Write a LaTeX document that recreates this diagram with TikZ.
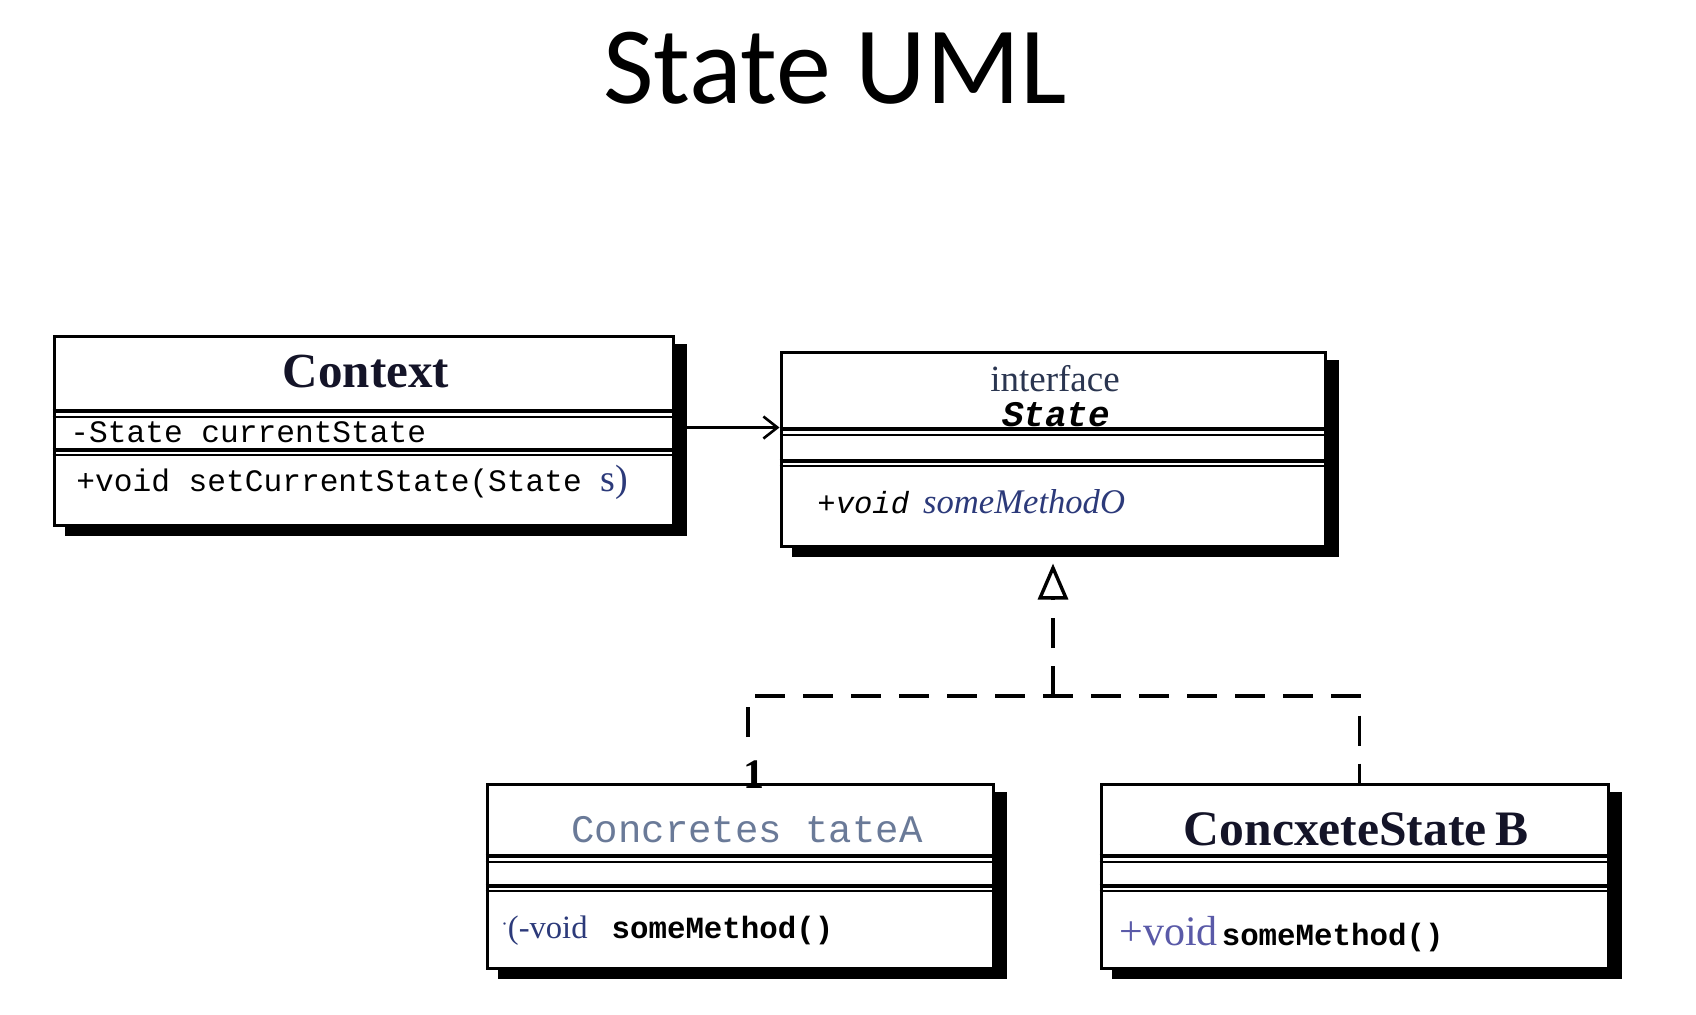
\documentclass[tikz,border=0pt]{standalone}
\usepackage{fontspec}
\setmainfont{Liberation Serif}
\setmonofont{Liberation Mono}
\newfontfamily\titlefont{Carlito}
\usetikzlibrary{fit,arrows.meta,calc}
\definecolor{inkdark}{HTML}{141428}
\definecolor{slate}{HTML}{2A3550}
\definecolor{navy}{HTML}{2C3A7A}
\definecolor{steel}{HTML}{6A7A98}
\definecolor{violet}{HTML}{5A5AA8}
\begin{document}
\begin{tikzpicture}[x=0.5pt,y=-0.5pt,
  umlbox/.style={draw=black, line width=1.5pt, fill=white, inner sep=0pt,
    preaction={fill=black, draw=black, line width=1.5pt, transform canvas={xshift=6pt,yshift=-4.5pt}}},
  septhick/.style={line width=1.7pt},
  septhin/.style={line width=1.2pt},
  mono/.style={font=\ttfamily\fontsize{15.6}{18}\selectfont, inner sep=0pt},
  assoc/.style={line width=1.1pt, -{Straight Barb[length=7pt,width=11pt,line width=1.3pt]}},
  dashline/.style={line width=1.6pt, dash pattern=on 15pt off 9pt},
  realize/.style={dashline, -{Triangle[open,length=18pt,width=15pt,line width=1.7pt]}}
]
\useasboundingbox[fill=white] (0,0) rectangle (1696,1014);

% title
\node[font=\titlefont\fontsize{55}{62}\selectfont, anchor=base, inner sep=0pt] (title) at (835,103) {State UML};

% boxes
\node[umlbox, fit={(54,336) (673,525)}] (ctx) {};
\node[umlbox, fit={(781,352) (1325,546)}] (st) {};
\node[umlbox, fit={(487,784) (993,968)}] (ca) {};
\node[umlbox, fit={(1101,784) (1608,968)}] (cb) {};

% compartment separators
\foreach \b/\ya/\yb in {ctx/411/450, st/429/461, ca/856/886, cb/856/886}{
  \draw[septhick] (\b.west |- 0,\ya) -- (\b.east |- 0,\ya);
  \draw[septhin] (\b.west |- 0,{\ya+6}) -- (\b.east |- 0,{\ya+6});
  \draw[septhick] (\b.west |- 0,\yb) -- (\b.east |- 0,\yb);
  \draw[septhin] (\b.west |- 0,{\yb+5}) -- (\b.east |- 0,{\yb+5});
}

% Context texts
\node[font=\bfseries\fontsize{24.5}{28}\selectfont, text=inkdark] (ctxname) at (366,372) {Context};
\node[mono, anchor=west] (ctxattr) at (70,432) {-State currentState};
\node[mono, anchor=west] (ctxop) at (76,482) {+void setCurrentState(State {\rmfamily\fontsize{19}{22}\selectfont\color{navy}s)}};

% State texts
\node[font=\fontsize{18.5}{21}\selectfont, text=slate, inner sep=0pt] (stiface) at (1055,379) {interface};
\node[font=\ttfamily\bfseries\itshape\fontsize{18}{21}\selectfont, inner sep=0pt] (stname) at (1056,415) {State};
\node[anchor=west, inner sep=0pt] (stop) at (817,502) {{\ttfamily\itshape\fontsize{15.3}{18}\selectfont +void}\hspace{7pt}{\itshape\fontsize{17.3}{20}\selectfont\color{navy}someMethodO}};

% ConcretestateA texts
\node[font=\ttfamily\fontsize{19.5}{22}\selectfont, text=steel, inner sep=0pt] (caname) at (747,830) {Concretes tateA};
\node[anchor=west, inner sep=0pt] (caop) at (501,931) {{\rmfamily\fontsize{16.3}{19}\selectfont\color{navy}\raisebox{4pt}{\scalebox{0.6}{·}}(-void}\hspace{12pt}{\ttfamily\bfseries\fontsize{15.4}{18}\selectfont someMethod()}};

% ConcxeteStateB texts
\node[font=\bfseries\fontsize{24.8}{28}\selectfont, text=inkdark, inner sep=0pt] (cbname) at (1356,829) {ConcxeteState\,B};
\node[anchor=west, inner sep=0pt] (cbop) at (1119,934) {{\rmfamily\fontsize{21}{24}\selectfont\color{violet}+void}\hspace{2pt}{\ttfamily\bfseries\fontsize{15.4}{18}\selectfont someMethod()}};

% association arrow
\draw[assoc] ([xshift=6pt,yshift=1.5pt]ctx.east) -- ([yshift=1.5pt]st.west |- ctx.east);

% realization
\coordinate (mid) at (1053,696);
\coordinate (aend) at (748,737);
\draw[dashline] (aend) |- (mid) -| ([xshift=2.5pt]cb.north);
\draw[realize] (mid) -- ([yshift=-8pt]st.south);
\node[font=\bfseries\fontsize{21}{23}\selectfont, anchor=south, inner sep=0pt] (one) at (754,789) {1};

\end{tikzpicture}
\end{document}
